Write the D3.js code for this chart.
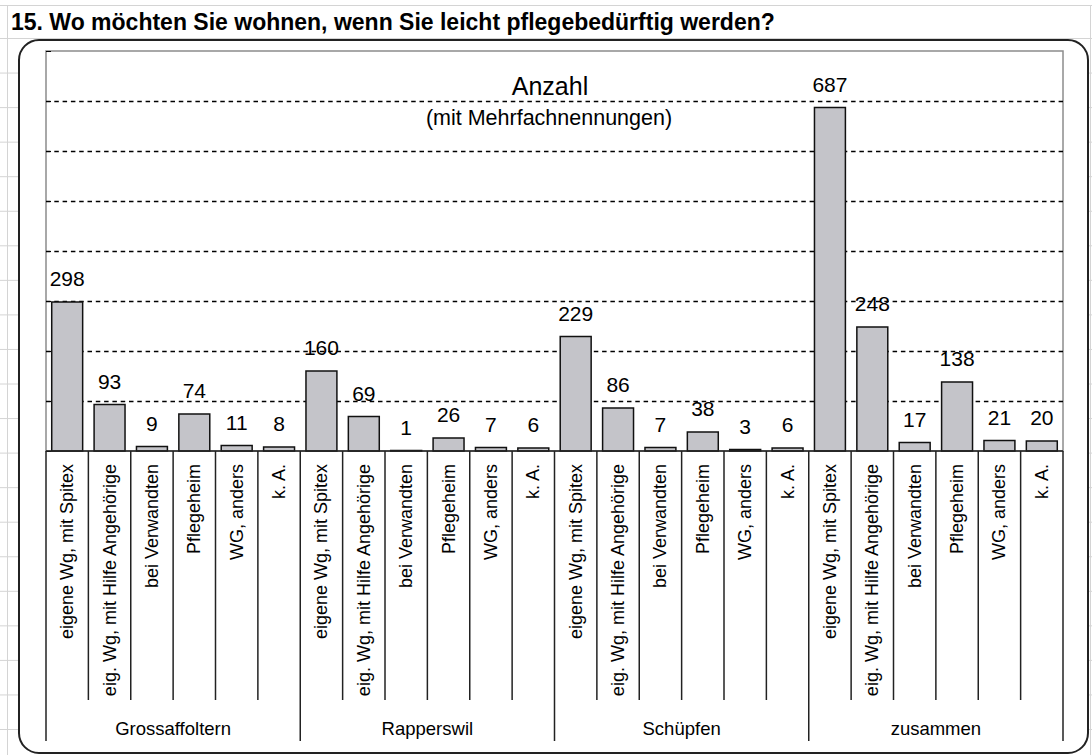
<!DOCTYPE html>
<html>
<head>
<meta charset="utf-8">
<script src="https://cdn.jsdelivr.net/npm/d3@7"></script>
<style>
  html, body { margin: 0; padding: 0; background: #fff; }
  svg { display: block; font-family: "Liberation Sans", Arial, sans-serif; }
</style>
</head>
<body>
<svg id="chart" width="1092" height="755"></svg>
<script>
// Wo möchten Sie wohnen - Anzahl nach Gemeinde
var title = '15. Wo möchten Sie wohnen, wenn Sie leicht pflegebedürftig werden?';
var groups = ['Grossaffoltern', 'Rapperswil', 'Schüpfen', 'zusammen'];
var answers = [
  'eigene Wg, mit Spitex',
  'eig. Wg, mit Hilfe Angehörige',
  'bei Verwandten',
  'Pflegeheim',
  'WG, anders',
  'k. A.'
];
var grossaffoltern = [298, 93, 9, 74, 11, 8];
var rapperswil = [160, 69, 1, 26, 7, 6];
var schuepfen = [229, 86, 7, 38, 3, 6];
var zusammen = [687, 248, 17, 138, 21, 20];
var yMax = 800;

(function() {
  var svg = d3.select('#chart')
      , W = 1092, H = 755
      , left = 46, right = 1063, top = 51, bottom = 451
      ;

  // flat rows for the bars
  var series = [grossaffoltern, rapperswil, schuepfen, zusammen];
  var rows = [];
  groups.forEach(function(g, gi) {
    answers.forEach(function(a, ai) {
      rows.push({key: gi + '_' + ai, group: g, answer: a, value: series[gi][ai], first: ai === 0});
    });
  });

  var x = d3.scaleBand()
      .domain(rows.map(function(d) { return d.key; }))
      .range([left, right])
      .paddingInner(0.27)
      .paddingOuter(0.135);
  var y = d3.scaleLinear().domain([0, yMax]).range([bottom, top]);
  var step = x.step();

  // spreadsheet grid behind the chart object
  var grid = svg.append('g').attr('stroke', '#d4d4d4').attr('stroke-width', 1);
  grid.append('line').attr('x1', 0).attr('x2', W).attr('y1', 5.5).attr('y2', 5.5);
  d3.range(38.5, H, 34.55).forEach(function(ry) {
    grid.append('line').attr('x1', 0).attr('x2', W).attr('y1', ry).attr('y2', ry);
  });
  grid.append('line').attr('x1', 7.5).attr('x2', 7.5).attr('y1', 5).attr('y2', H);
  grid.append('line').attr('x1', 1090.5).attr('x2', 1090.5).attr('y1', 5).attr('y2', H);

  svg.append('text')
    .attr('x', 11).attr('y', 30)
    .attr('font-size', 23).attr('font-weight', 'bold')
    .text(title);

  // chart frame
  svg.append('rect')
    .attr('x', 19).attr('y', 40).attr('width', 1069).attr('height', 713)
    .attr('rx', 20).attr('ry', 20)
    .attr('fill', '#fff').attr('stroke', '#222').attr('stroke-width', 2);

  // plot area
  svg.append('rect')
    .attr('x', left).attr('y', top).attr('width', right - left).attr('height', bottom - top)
    .attr('fill', '#fff').attr('stroke', '#8c8c8c').attr('stroke-width', 1.5);

  // dashed gridlines
  svg.append('g').selectAll('line')
    .data(y.ticks(8).filter(function(t) { return t > 0 && t < yMax; }))
    .enter().append('line')
    .attr('x1', left).attr('x2', right)
    .attr('y1', function(d) { return Math.round(y(d)) + 0.5; })
    .attr('y2', function(d) { return Math.round(y(d)) + 0.5; })
    .attr('stroke', '#000').attr('stroke-width', 1.3)
    .attr('stroke-dasharray', '4.5,3.8');

  // inward ticks on value axis
  var yAxis = svg.append('g')
    .attr('transform', 'translate(' + left + ',0)')
    .call(d3.axisRight(y).ticks(8).tickSize(5).tickFormat(''));
  yAxis.select('.domain').remove();
  yAxis.selectAll('line').attr('stroke', '#000');

  // axis titles
  svg.append('text')
    .attr('x', 550).attr('y', 95).attr('text-anchor', 'middle')
    .attr('font-size', 25).text('Anzahl');
  svg.append('text')
    .attr('x', 549).attr('y', 125).attr('text-anchor', 'middle')
    .attr('font-size', 21.5).text('(mit Mehrfachnennungen)');

  // bars
  svg.append('g').selectAll('rect')
    .data(rows)
    .enter().append('rect')
    .attr('x', function(d) { return x(d.key); })
    .attr('y', function(d) { return y(d.value); })
    .attr('width', x.bandwidth())
    .attr('height', function(d) { return y(0) - y(d.value); })
    .attr('fill', '#c4c4c9')
    .attr('stroke', '#111').attr('stroke-width', 1.5);

  // value labels
  svg.append('g').selectAll('text')
    .data(rows)
    .enter().append('text')
    .attr('x', function(d) { return x(d.key) + x.bandwidth() / 2; })
    .attr('y', function(d) { return y(d.value) - 16; })
    .attr('text-anchor', 'middle')
    .attr('font-size', 21)
    .text(function(d) { return d.value; });

  // category axis
  var axis = svg.append('g').attr('stroke', '#222').attr('stroke-width', 1.5);
  axis.append('line').attr('x1', left).attr('x2', right).attr('y1', bottom).attr('y2', bottom);
  d3.range(rows.length + 1).forEach(function(i) {
    var sx = left + i * step
        , major = (i % answers.length === 0)
        ;
    axis.append('line')
      .attr('x1', sx).attr('x2', sx)
      .attr('y1', bottom).attr('y2', major ? 741 : 700);
  });

  svg.append('g').selectAll('text')
    .data(rows)
    .enter().append('text')
    .attr('transform', function(d) {
      return 'translate(' + (x(d.key) + x.bandwidth() / 2 + 6) + ',464) rotate(-90)';
    })
    .attr('text-anchor', 'end')
    .attr('font-size', 18)
    .text(function(d) { return d.answer; });

  svg.append('g').selectAll('text')
    .data(groups)
    .enter().append('text')
    .attr('x', function(d, i) { return left + (i + 0.5) * answers.length * step; })
    .attr('y', 735)
    .attr('text-anchor', 'middle')
    .attr('font-size', 18.5)
    .text(function(d) { return d; });
})();
</script>
</body>
</html>
